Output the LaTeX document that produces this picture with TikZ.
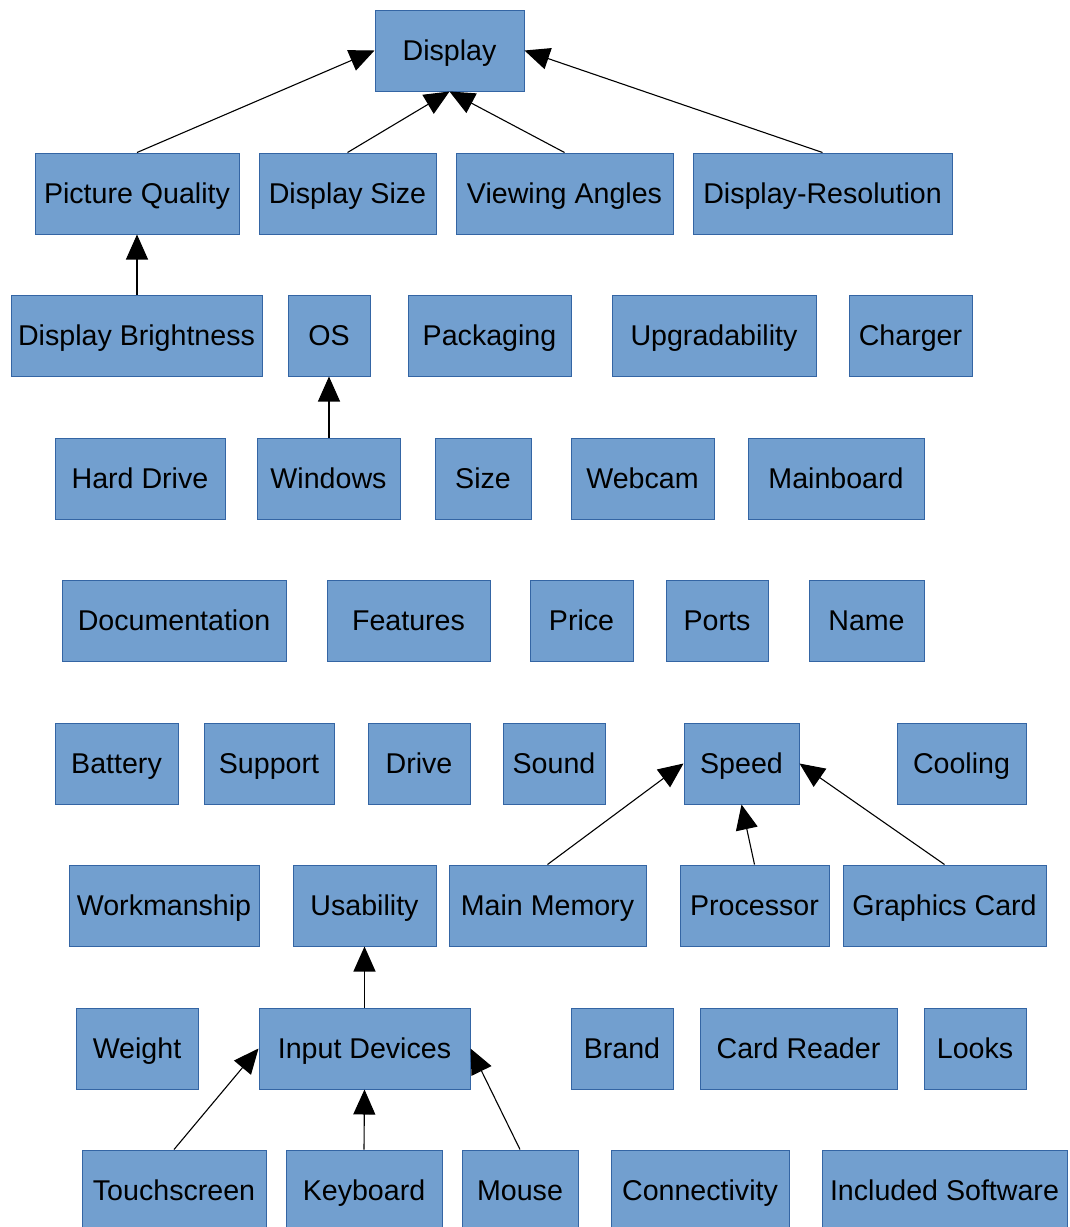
\documentclass[tikz,border=0pt]{standalone}
\usepackage{fontspec}
\setmainfont{Liberation Sans}
\usetikzlibrary{arrows.meta}
\definecolor{boxfill}{HTML}{729FCF}
\definecolor{boxline}{HTML}{3465A4}
\tikzset{
  box/.style={draw=boxline, fill=boxfill, line width=1pt, inner sep=0pt,
    minimum height=81pt, text height=25.9pt, text depth=6.1pt,
    font=\fontsize{28.6}{34}\selectfont, text=black},
  link/.style={draw=black, line width=1.1pt, -{Triangle[length=25pt,width=22pt]}}
}
% \bx{name}{left}{top}{right}{label}
\newcommand\bx[5]{\node[box, minimum width={(#4-#2)*1pt}] (#1) at ({(#2+#4)/2},{#3+40.5}) {#5};}
\begin{document}
\begin{tikzpicture}[x=1pt,y=-1pt]
\useasboundingbox (0,0) rectangle (1069,1227);
% row 1
\bx{disp}{375}{10}{524}{Display}
% row 2
\bx{pq}{35}{153}{239}{Picture Quality}
\bx{dsize}{259}{153}{436}{Display Size}
\bx{va}{456}{153}{673}{Viewing Angles}
\bx{dres}{693}{153}{952}{Display-Resolution}
% row 3
\bx{dbright}{11}{295}{262}{Display Brightness}
\bx{os}{288}{295}{370}{OS}
\bx{pack}{408}{295}{571}{Packaging}
\bx{upg}{612}{295}{816}{Upgradability}
\bx{charger}{849}{295}{972}{Charger}
% row 4
\bx{hdd}{55}{438}{225}{Hard Drive}
\bx{win}{257}{438}{400}{Windows}
\bx{size}{435}{438}{531}{Size}
\bx{webcam}{571}{438}{714}{Webcam}
\bx{mainboard}{748}{438}{924}{Mainboard}
% row 5
\bx{doc}{62}{580}{286}{Documentation}
\bx{feat}{327}{580}{490}{Features}
\bx{price}{530}{580}{633}{Price}
\bx{ports}{666}{580}{768}{Ports}
\bx{name}{809}{580}{924}{Name}
% row 6
\bx{battery}{55}{723}{178}{Battery}
\bx{support}{204}{723}{334}{Support}
\bx{drive}{368}{723}{470}{Drive}
\bx{sound}{503}{723}{605}{Sound}
\bx{speed}{684}{723}{799}{Speed}
\bx{cooling}{897}{723}{1026}{Cooling}
% row 7
\bx{work}{69}{865}{259}{Workmanship}
\bx{usab}{293}{865}{436}{Usability}
\bx{mem}{449}{865}{646}{Main Memory}
\bx{proc}{680}{865}{829}{Processor}
\bx{gpu}{843}{865}{1046}{Graphics Card}
% row 8
\bx{weight}{76}{1008}{198}{Weight}
\bx{input}{259}{1008}{470}{Input Devices}
\bx{brand}{571}{1008}{673}{Brand}
\bx{card}{700}{1008}{897}{Card Reader}
\bx{looks}{924}{1008}{1026}{Looks}
% row 9
\bx{touch}{82}{1150}{266}{Touchscreen}
\bx{keyb}{286}{1150}{442}{Keyboard}
\bx{mouse}{462}{1150}{578}{Mouse}
\bx{conn}{611}{1150}{789}{Connectivity}
\bx{soft}{822}{1150}{1067}{Included Software}
% connectors
\draw[link] (pq.north) -- (disp.west);
\draw[link] (dsize.north) -- (disp.south);
\draw[link] (va.north) -- (disp.south);
\draw[link] (dres.north) -- (disp.east);
\draw[link] (dbright.north -| pq.north) -- (pq.south);
\draw[link] (win.north -| os.south) -- (os.south);
\draw[link] (mem.north) -- (speed.west);
\draw[link] (proc.north) -- (speed.south);
\draw[link] (gpu.north) -- (speed.east);
\draw[link] (input.north -| usab.south) -- (usab.south);
\draw[link] (touch.north) -- (input.west);
\draw[link] (keyb.north) -- (input.south);
\draw[link] (mouse.north) -- (input.east);
\end{tikzpicture}
\end{document}
